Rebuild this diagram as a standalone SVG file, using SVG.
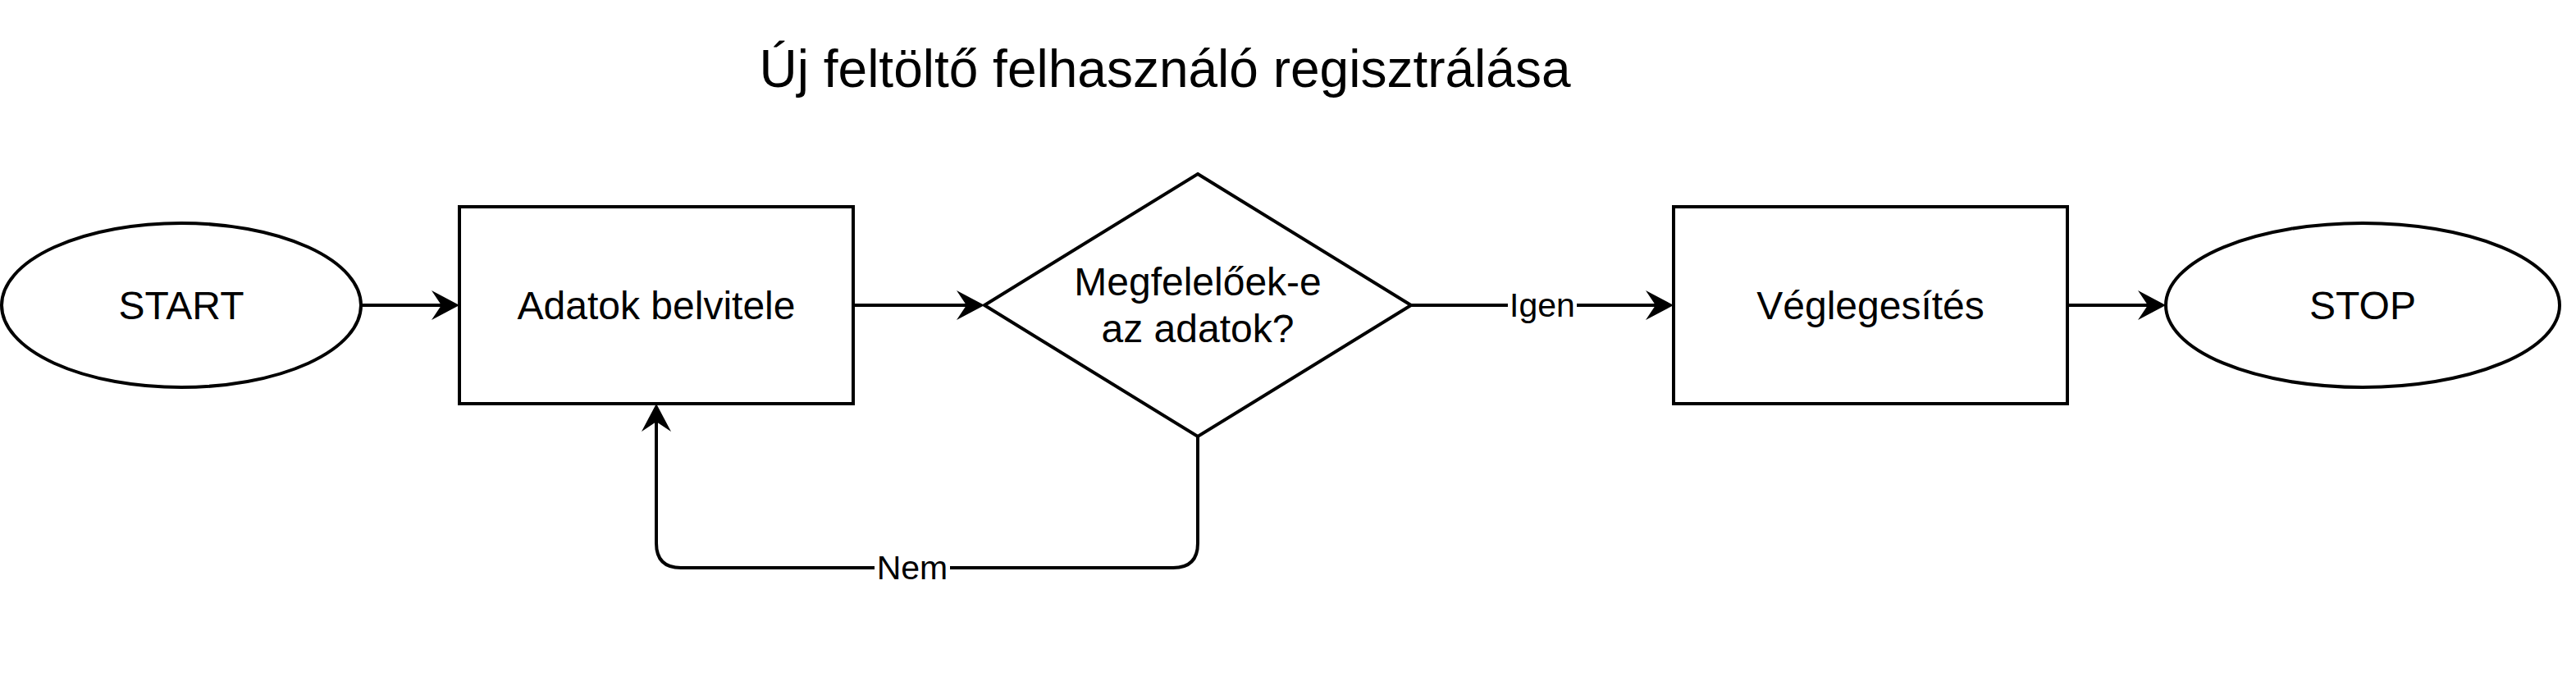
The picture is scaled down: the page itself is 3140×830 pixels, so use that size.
<svg xmlns="http://www.w3.org/2000/svg" width="3140" height="830" viewBox="0 0 3140 830">
  <style>
    .shape { fill: #ffffff; stroke: #000000; stroke-width: 4; }
    .edge { fill: none; stroke: #000000; stroke-width: 4; marker-end: url(#arrow); }
    .txt { font-family: "Liberation Sans", Arial, Helvetica, sans-serif; fill: #000000; text-anchor: middle; }
    .node { font-size: 48px; }
    .lbl { font-size: 41px; }
    .title { font-size: 64px; }
    .lblbg { fill: #ffffff; stroke: none; }
  </style>
  <defs>
    <marker id="arrow" markerUnits="userSpaceOnUse" markerWidth="60" markerHeight="60" viewBox="-30 -30 60 60" refX="0" refY="0" orient="auto" overflow="visible">
      <path d="M20,0 L-14,-18 L-2,0 L-14,18 Z" fill="#000000" stroke="none"/>
    </marker>
  </defs>
  <rect width="3140" height="830" fill="#ffffff"/>

  <g id="title">
    <text class="txt title" x="1420" y="106">Új feltöltő felhasználó regisztrálása</text>
  </g>

  <g id="connectors">
    <path class="edge" d="M440,372 H540"/>
    <path class="edge" d="M1040,372 H1180"/>
    <path class="edge" d="M1720,372 H2020"/>
    <path class="edge" d="M2520,372 H2620"/>
    <path class="edge" d="M1460,532 V662 Q1460,692 1430,692 H830 Q800,692 800,662 V512"/>
    <rect class="lblbg" x="1838" y="352" width="84" height="42"/>
    <text class="txt lbl" x="1880" y="386">Igen</text>
    <rect class="lblbg" x="1066" y="672" width="92" height="42"/>
    <text class="txt lbl" x="1112" y="706">Nem</text>
  </g>

  <g id="start">
    <ellipse class="shape" cx="221" cy="372" rx="219" ry="100"/>
    <text class="txt node" x="221" y="389">START</text>
  </g>

  <g id="adatok">
    <rect class="shape" x="560" y="252" width="480" height="240"/>
    <text class="txt node" x="800" y="389">Adatok belvitele</text>
  </g>

  <g id="decision">
    <polygon class="shape" points="1460,212 1720,372 1460,532 1200,372"/>
    <text class="txt node" x="1460" y="360">Megfelelőek-e</text>
    <text class="txt node" x="1460" y="417">az adatok?</text>
  </g>

  <g id="veglegesites">
    <rect class="shape" x="2040" y="252" width="480" height="240"/>
    <text class="txt node" x="2280" y="389">Véglegesítés</text>
  </g>

  <g id="stop">
    <ellipse class="shape" cx="2880" cy="372" rx="240" ry="100"/>
    <text class="txt node" x="2880" y="389">STOP</text>
  </g>
</svg>
